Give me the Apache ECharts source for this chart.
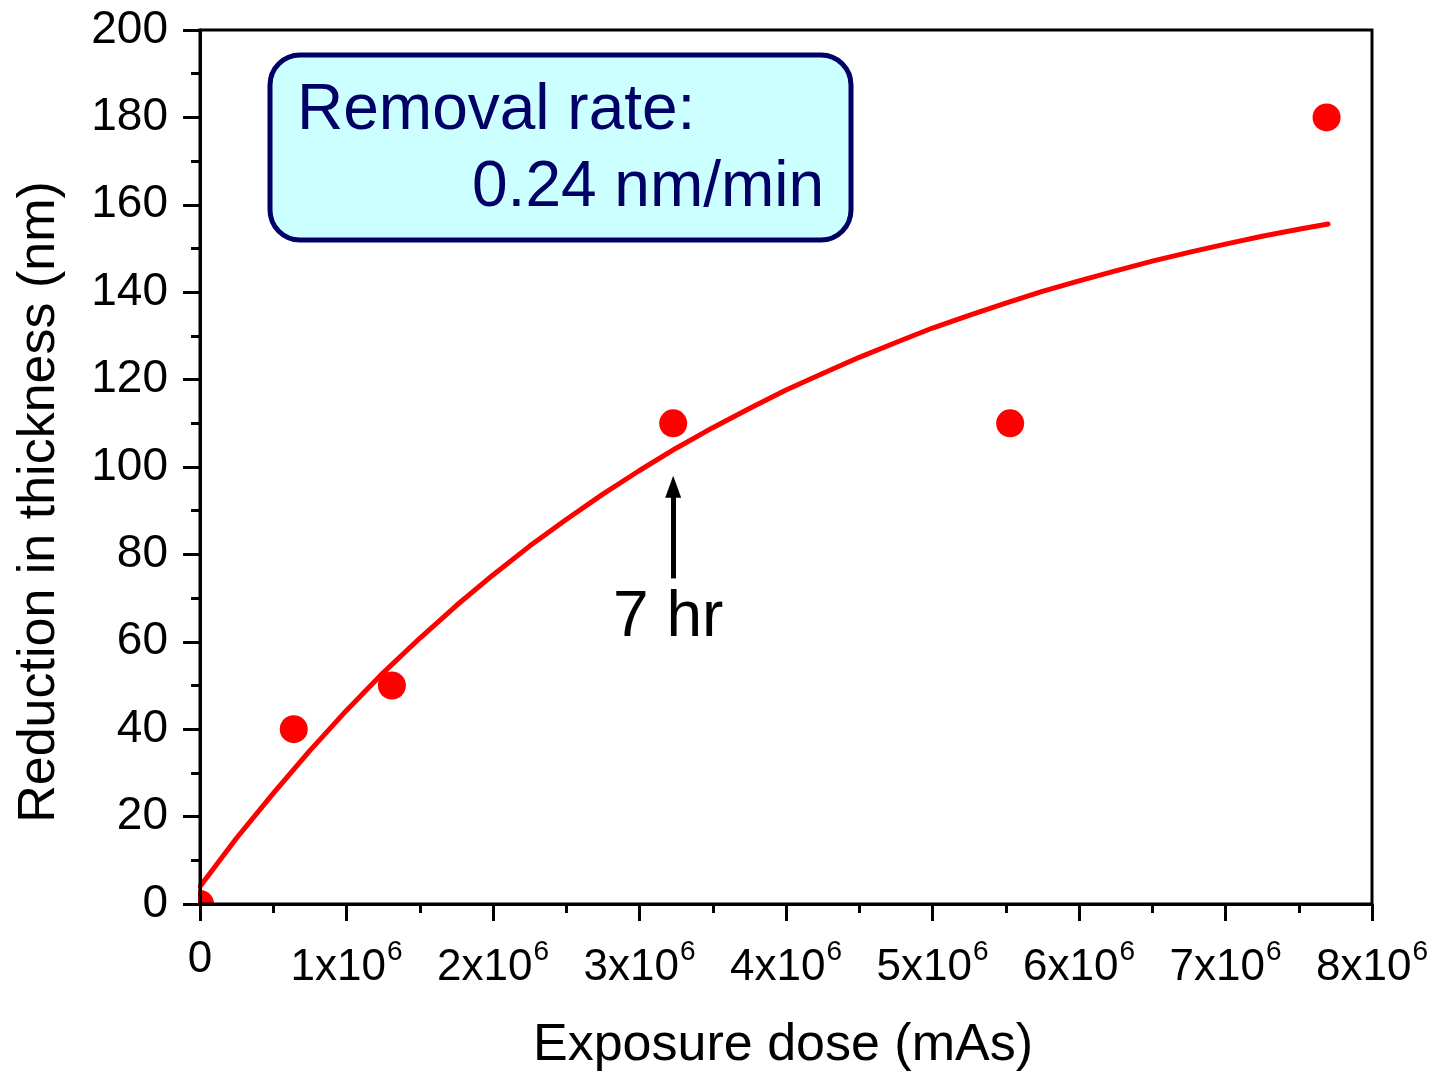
<!DOCTYPE html>
<html>
<head>
<meta charset="utf-8">
<script src="https://cdn.jsdelivr.net/npm/echarts@6/dist/echarts.min.js"></script>
<style>html,body{margin:0;padding:0;background:#fff;}#c{width:1437px;height:1076px;}</style>
</head>
<body>
<div id="c"></div>
<script>
// measured data points
var doseX = [0, 0.64e6, 1.31e6, 3.23e6, 5.53e6, 7.69e6];
var reductionY = [0, 40, 50, 110, 110, 180];
// fitted curve
var curveX = [0, 0.25e6, 0.5e6, 0.75e6, 1.0e6, 1.25e6, 1.5e6, 1.75e6, 2.0e6, 2.25e6, 2.5e6, 2.75e6, 3.0e6, 3.25e6, 3.5e6, 3.75e6, 4.0e6, 4.25e6, 4.5e6, 4.75e6, 5.0e6, 5.25e6, 5.5e6, 5.75e6, 6.0e6, 6.25e6, 6.5e6, 6.75e6, 7.0e6, 7.25e6, 7.5e6, 7.7e6];
var curveY = [4, 15.1, 25.3, 35.1, 44.3, 52.9, 60.8, 68.3, 75.3, 81.9, 88, 93.8, 99.2, 104.3, 109, 113.4, 117.6, 121.4, 125.1, 128.5, 131.8, 134.7, 137.5, 140.2, 142.6, 144.9, 147.1, 149.1, 151, 152.8, 154.4, 155.6];
var xTickLabels = ['0', '1x10^6', '2x10^6', '3x10^6', '4x10^6', '5x10^6', '6x10^6', '7x10^6', '8x10^6'];
var yTickLabels = ['0', '20', '40', '60', '80', '100', '120', '140', '160', '180', '200'];
// arrow annotation (data space)
var arrowX = 3.23e6, arrowY0 = 74.5, arrowY1 = 95.5;

var FONT = 'Liberation Sans';
var chart = echarts.init(document.getElementById('c'));

function pairs(xs, ys) { return xs.map(function (x, i) { return [x, ys[i]]; }); }

var axisBase = {
  axisLine: { show: true, onZero: false, lineStyle: { color: '#000', width: 3 } },
  axisTick: { show: true, inside: false, length: 17, lineStyle: { color: '#000', width: 3 } },
  minorTick: { show: true, splitNumber: 2, length: 9, lineStyle: { color: '#000', width: 3 } },
  splitLine: { show: false }
};

var option = {
  animation: false,
  backgroundColor: '#fff',
  grid: { left: 200, right: 65, top: 30, bottom: 172, show: true, borderColor: '#000', borderWidth: 3, backgroundColor: 'transparent', z: 10 },
  xAxis: Object.assign({}, axisBase, {
    type: 'value', min: 0, max: 8e6, interval: 1e6, z: 10,
    axisLabel: {
      margin: 34, color: '#000', fontFamily: FONT, fontSize: 44,
      formatter: function (v) {
        var s = xTickLabels[Math.round(v / 1e6)];
        if (s.indexOf('^') < 0) return '{m|' + s + '}';
        var p = s.split('^');
        return '{m|' + p[0] + '}{s|' + p[1] + '}';
      },
      rich: {
        m: { fontFamily: FONT, fontSize: 44, color: '#000', verticalAlign: 'bottom' },
        s: { fontFamily: FONT, fontSize: 28, color: '#000', verticalAlign: 'bottom', padding: [0, 0, 24, 1] }
      }
    }
  }),
  yAxis: Object.assign({}, axisBase, {
    type: 'value', min: 0, max: 200, interval: 20, z: 10,
    axisLabel: {
      margin: 32, color: '#000', fontFamily: FONT, fontSize: 46,
      formatter: function (v) { return yTickLabels[Math.round(v / 20)]; }
    }
  }),
  series: [
    {
      type: 'line', data: pairs(curveX, curveY), smooth: false, showSymbol: false, symbol: 'none',
      lineStyle: { color: '#ff0000', width: 5, cap: 'round', join: 'round' }, z: 2, clip: true
    },
    {
      type: 'scatter', data: pairs(doseX, reductionY), symbol: 'circle', symbolSize: 28,
      itemStyle: { color: '#ff0000', opacity: 1 }, z: 3, clip: false,
      markLine: {
        silent: true, symbol: ['none', 'triangle'], symbolSize: [16, 22],
        lineStyle: { color: '#000', width: 5, type: 'solid' },
        label: { show: false },
        data: [[{ coord: [arrowX, arrowY0] }, { coord: [arrowX, arrowY1] }]]
      }
    }
  ],
  graphic: [
    // mask outside the plot at the origin so the point at (0,0) looks clipped
    { type: 'rect', z: 5, shape: { x: 170, y: 870, width: 28, height: 60 }, style: { fill: '#fff' } },
    { type: 'rect', z: 5, shape: { x: 170, y: 906, width: 60, height: 30 }, style: { fill: '#fff' } },
    { type: 'rect', z: 20, shape: { x: 270, y: 55, width: 581, height: 185, r: 30 },
      style: { fill: '#ccffff', stroke: '#000066', lineWidth: 5 } },
    { type: 'text', z: 21, left: 297, top: 79,
      style: { text: 'Removal rate:', fontFamily: FONT, fontSize: 64, fill: '#000066' } },
    { type: 'text', z: 21, left: 472, top: 156,
      style: { text: '0.24 nm/min', fontFamily: FONT, fontSize: 64, fill: '#000066' } },
    { type: 'text', z: 21, left: 613, top: 586,
      style: { text: '7 hr', fontFamily: FONT, fontSize: 64, fill: '#000' } },
    { type: 'text', z: 21, left: 533, top: 1020,
      style: { text: 'Exposure dose (mAs)', fontFamily: FONT, fontSize: 52, fill: '#000' } },
    { type: 'text', z: 21, x: 40, y: 502, rotation: Math.PI / 2,
      style: { text: 'Reduction in thickness (nm)', fontFamily: FONT, fontSize: 52, fill: '#000', align: 'center', verticalAlign: 'middle' } }
  ]
};
chart.setOption(option);
</script>
</body>
</html>
